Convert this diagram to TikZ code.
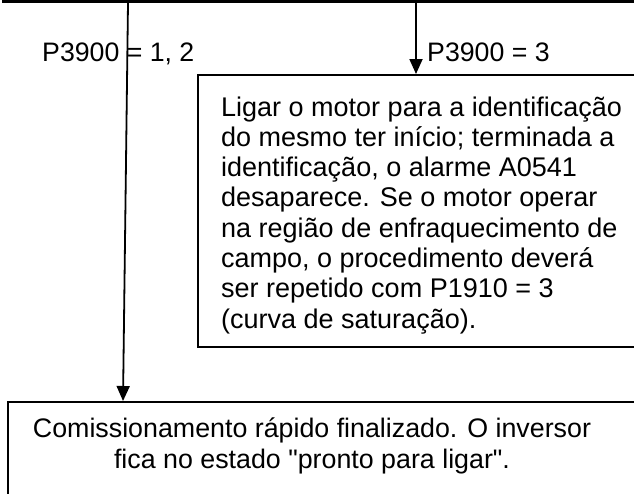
\documentclass[tikz,border=0pt]{standalone}
\usepackage{fontspec}
\setmainfont{Liberation Sans}[Ligatures=TeXOff]
\usetikzlibrary{arrows.meta}
\begin{document}
\begin{tikzpicture}[x=1pt,y=-1pt,
  boxstyle/.style={draw=black,line width=1.8pt,fill=none,inner sep=0pt,anchor=north west},
  txt/.style={inner sep=0pt,font=\fontsize{27}{30.3}\selectfont},
  lbl/.style={inner sep=0pt,font=\fontsize{26.7}{30}\selectfont,anchor=base west},
  arr/.style={line width=1.8pt,-{Triangle[length=15pt,width=13pt]}}]
\useasboundingbox (0,0) rectangle (634,493);
\clip (0,0) rectangle (634,493);
% top box (only its lower part visible)
\node[boxstyle,line width=2.8pt,minimum width=760pt,minimum height=60pt,anchor=south west] (top) at (1.5,3) {};
% middle box
\node[boxstyle,minimum width=520pt,minimum height=272pt] (mid) at (197,74) {};
\node[txt,align=left,anchor=base west] (midtext) at (221,328.1)
  {Ligar o motor para a identificação\\
   do mesmo ter início; terminada a\\
   identificação, o alarme A0541\\
   desaparece. Se o motor operar\\
   na região de enfraquecimento de\\
   campo, o procedimento deverá\\
   ser repetido com P1910 = 3\\
   (curva de saturação).};
% bottom box
\node[boxstyle,minimum width=720pt,minimum height=150pt] (bot) at (7,401) {};
\node[txt,font=\fontsize{26.8}{31}\selectfont,align=center,anchor=base] (bottext) at (312,468)
  {Comissionamento rápido finalizado. O inversor\\
   fica no estado "pronto para ligar".};
% connectors
\coordinate (s1) at (128,3);
\coordinate (e1) at (123,401);
\coordinate (s2) at (416,3);
\draw[arr] (s1) -- (e1);
\draw[arr] (s2) -- (s2 |- mid.north);
% labels
\node[lbl] (l1) at (42,61) {P3900 = 1, 2};
\node[lbl] (l2) at (427,61) {P3900 = 3};
\end{tikzpicture}
\end{document}
